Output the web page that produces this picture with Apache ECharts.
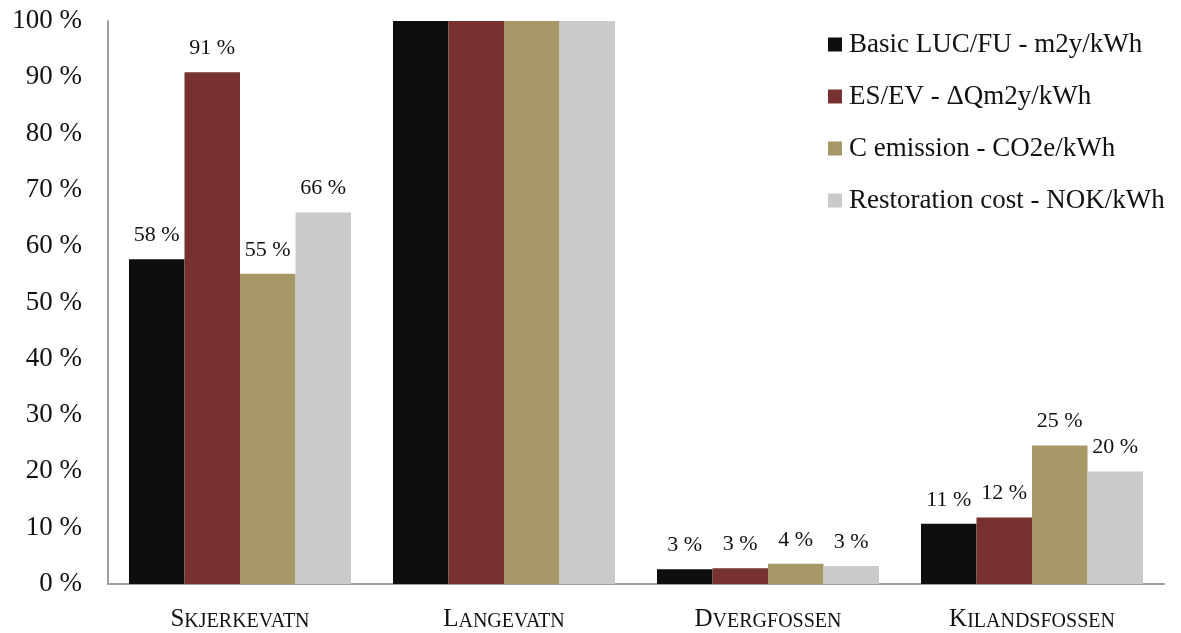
<!DOCTYPE html>
<html>
<head>
<meta charset="utf-8">
<title>Relative impact per site</title>
<script src="https://cdn.jsdelivr.net/npm/echarts@6/dist/echarts.min.js"></script>
<style>
  html, body { margin: 0; padding: 0; background: #ffffff; }
  #chart { width: 1181px; height: 633px; }
</style>
</head>
<body>
<div id="chart"></div>
<script>
// Sites (each shown in small caps: first letter + remaining letters)
const sites = ['Skjerkevatn', 'Langevatn', 'Dvergfossen', 'Kilandsfossen'];
// Whether value labels are printed above the bars of each site
const showSiteLabels = [true, false, true, true];

// Indicator series names
const seriesNames = [
  'Basic LUC/FU - m2y/kWh',
  'ES/EV - \u0394Qm2y/kWh',
  'C emission - CO2e/kWh',
  'Restoration cost - NOK/kWh'
];

// Values in percent, relative to Langevatn (= 100 %)
const basicLuc        = [57.7, 100, 2.6, 10.7];
const esEv            = [90.9, 100, 2.8, 11.8];
const cEmission       = [55.1, 100, 3.6, 24.6];
const restorationCost = [66.0, 100, 3.2, 20.0];

// Y axis ticks (percent)
const yMin = 0, yMax = 100, yStep = 10;

const seriesValues = [basicLuc, esEv, cEmission, restorationCost];
const colors = ['#0e0e0e', '#773130', '#a59766', '#cacaca'];

const serif = 'Liberation Serif';
const textColor = '#111111';

function smallCaps(name) {
  return '{big|' + name.charAt(0).toUpperCase() + '}{small|' + name.slice(1).toUpperCase() + '}';
}

const chart = echarts.init(document.getElementById('chart'), null, { renderer: 'canvas' });

const series = seriesNames.map((name, s) => ({
  name: name,
  type: 'bar',
  barGap: '0%',
  barCategoryGap: '15.9%',
  itemStyle: { color: colors[s] },
  label: {
    show: true,
    position: 'top',
    distance: 13,
    fontFamily: serif,
    fontSize: 22,
    color: textColor,
    formatter: p => Math.round(p.value) + ' %'
  },
  data: seriesValues[s].map((v, i) => ({
    value: v,
    label: { show: showSiteLabels[i] }
  }))
}));

chart.setOption({
  animation: false,
  backgroundColor: '#ffffff',
  grid: { left: 108, right: 17, top: 21, bottom: 49, containLabel: false },
  legend: {
    orient: 'vertical',
    left: 828,
    top: 31,
    padding: 0,
    icon: 'rect',
    itemWidth: 14,
    itemHeight: 14,
    itemGap: 25,
    textStyle: { fontFamily: serif, fontSize: 27, color: textColor, padding: [0, 0, 0, 2] },
    data: seriesNames
  },
  xAxis: {
    type: 'category',
    data: sites,
    axisLine: { show: true, lineStyle: { color: '#a0a0a0', width: 2 } },
    axisTick: { show: false },
    axisLabel: {
      margin: 22,
      interval: 0,
      formatter: v => smallCaps(v),
      rich: {
        big: { fontFamily: serif, fontSize: 25, color: textColor, verticalAlign: 'bottom', lineHeight: 26 },
        small: { fontFamily: serif, fontSize: 20, color: textColor, verticalAlign: 'bottom', lineHeight: 26 }
      }
    }
  },
  yAxis: {
    type: 'value',
    min: yMin,
    max: yMax,
    interval: yStep,
    axisLine: { show: true, lineStyle: { color: '#a0a0a0', width: 2 } },
    axisTick: { show: false },
    splitLine: { show: false },
    axisLabel: {
      margin: 26,
      fontFamily: serif,
      fontSize: 27,
      color: textColor,
      formatter: '{value} %'
    }
  },
  series: series
});
</script>
</body>
</html>
